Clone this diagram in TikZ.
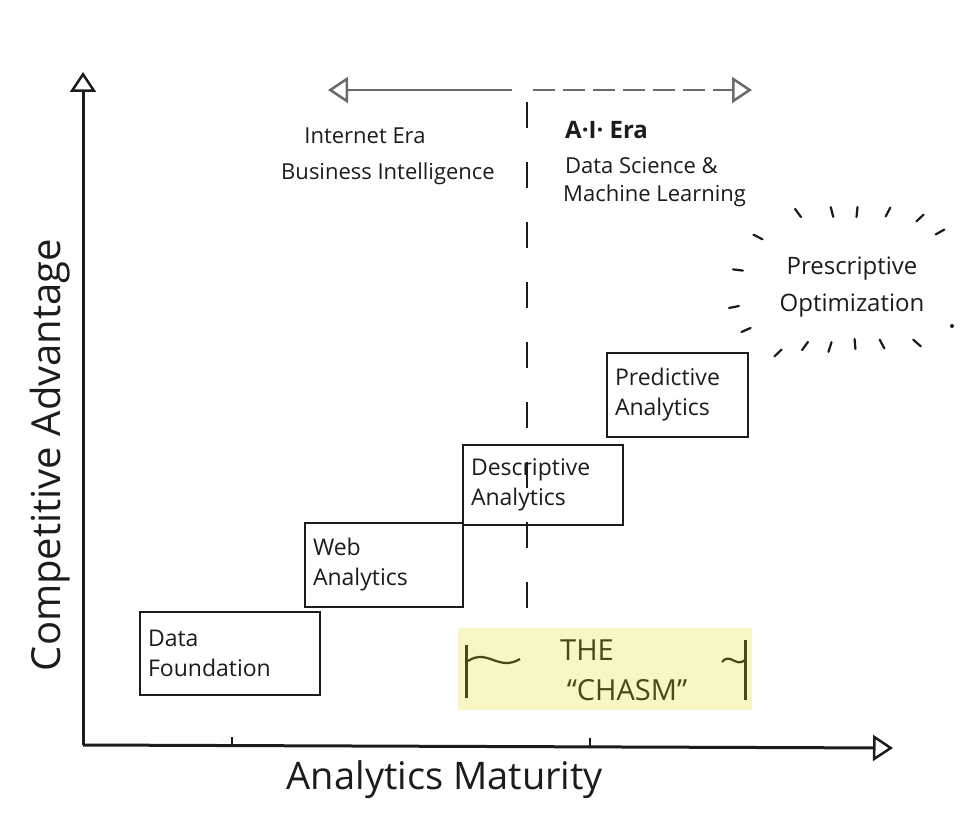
\documentclass[tikz,border=0pt]{standalone}
\usepackage{fontspec}
\setmainfont{Open Sans}
\usetikzlibrary{arrows.meta,calc}
\definecolor{chasmfill}{HTML}{F8F6C4}
\definecolor{chasmink}{HTML}{4A4815}
\definecolor{ink}{HTML}{1C1C1C}
\definecolor{eragray}{HTML}{6A6A6A}
\begin{document}
\begin{tikzpicture}[x=1pt,y=-1pt,
  axis/.style={draw=ink,line width=3pt},
  opentip/.style={-{Triangle[open,length=20pt,width=26pt,line width=2.5pt]}},
  eraline/.style={draw=eragray,line width=1.8pt},
  stepbox/.style={draw=ink,line width=2.2pt,align=left,inner sep=7pt,
    font=\fontsize{23}{30}\selectfont,text=ink},
  eratext/.style={font=\fontsize{22}{26}\selectfont,text=ink,inner sep=0pt},
  axislabel/.style={font=\fontsize{38}{44}\selectfont,text=ink},
  ray/.style={draw=ink,line width=2.2pt,line cap=round},
  chasmtext/.style={font=\fontsize{29}{34}\selectfont,text=chasmink,inner sep=0pt}]
\useasboundingbox (0,0) rectangle (975,821);
\fill[white] (0,0) rectangle (975,821);

% axes
\coordinate (O) at (83,745);
\coordinate (Ytop) at (83,72);
\coordinate (Xend) at (893,748);
\draw[axis,opentip] (O) -- (Ytop);
\draw[axis,opentip] (O) -- (Xend);
\coordinate (t1) at (232,745);
\coordinate (t1b) at (232,737);
\coordinate (t2) at (590,746);
\coordinate (t2b) at (590,738);
\draw[draw=ink,line width=2pt] (t1) -- (t1b);
\draw[draw=ink,line width=2pt] (t2) -- (t2b);

\node[axislabel] (xlabel) at (445,780) {Analytics Maturity};
\node[axislabel,font=\fontsize{40}{46}\selectfont,rotate=90] (ylabel) at (50,455) {Competitive Advantage};

% era arrow
\coordinate (eraL) at (328,90);
\coordinate (eraM1) at (512,90);
\coordinate (eraM2) at (533,90);
\coordinate (eraR) at (752,90);
\draw[eraline,opentip] (eraM1) -- (eraL);
\draw[eraline,opentip,dash pattern=on 22pt off 8pt] (eraM2) -- (eraR);

% divider
\coordinate (divT) at (527,102);
\coordinate (divB) at (527,618);
\draw[draw=ink,line width=2.2pt,dash pattern=on 26pt off 34pt] (divT) -- (divB);

% era labels
\node[eratext] (internet) at (365,136) {Internet Era};
\node[eratext] (bi) at (388,174) {Business Intelligence};
\node[eratext,anchor=west,font=\fontsize{24}{28}\selectfont\bfseries] (ai) at (565,130) {A·I· Era};
\node[eratext,anchor=west] (ds) at (565,166) {Data Science \&};
\node[eratext,anchor=west] (ml) at (563,196) {Machine Learning};

% steps
\node[stepbox,minimum width=180pt,minimum height=83pt,text width=164pt] (data) at (230,653.5) {Data\\Foundation};
\node[stepbox,minimum width=158pt,minimum height=84pt,text width=142pt] (web) at (384,565) {Web\\Analytics};
\node[stepbox,minimum width=160pt,minimum height=80pt,text width=144pt] (desc) at (543,485) {Descriptive\\Analytics};
\node[stepbox,minimum width=141pt,minimum height=84pt,text width=125pt] (pred) at (677.5,395) {Predictive\\Analytics};

% prescriptive
\node[align=center,font=\fontsize{24}{37}\selectfont,text=ink] (presc) at (852,287) {Prescriptive\\Optimization};
\coordinate (pc) at (850,284);
\foreach \px/\py in {798/213,832/212,857/212,888/212,920/218,940/232,
                     758/237,738/270,734/307,746/330,
                     778/353,805/346,830/347,855/344,882/344,917/343}{
  \draw[ray] ($(\px,\py)!-5pt!(pc)$) -- ($(\px,\py)!5pt!(pc)$);
}
\coordinate (dot) at (952,326);
\fill[ink] (dot) circle (2pt);

% chasm
\node[fill=chasmfill,minimum width=294pt,minimum height=82pt,inner sep=0pt] (chasm) at (605,669) {};
\node[chasmtext] (the) at (587,650) {THE};
\node[chasmtext] (chasmword) at (627,690) {“CHASM”};
\coordinate (bl1) at (466,645);
\coordinate (bl2) at (466,698);
\coordinate (bl3) at (468,661);
\coordinate (bl4) at (520,659);
\draw[draw=chasmink,line width=3pt] (bl1) -- (bl2);
\draw[draw=chasmink,line width=2.2pt] (bl3) .. controls (488,648) and (498,672) .. (bl4);
\coordinate (br1) at (745,640);
\coordinate (br2) at (745,700);
\coordinate (br3) at (722,662);
\coordinate (br4) at (745,660);
\draw[draw=chasmink,line width=3pt] (br1) -- (br2);
\draw[draw=chasmink,line width=2.2pt] (br3) .. controls (730,652) and (736,668) .. (br4);
\end{tikzpicture}
\end{document}
